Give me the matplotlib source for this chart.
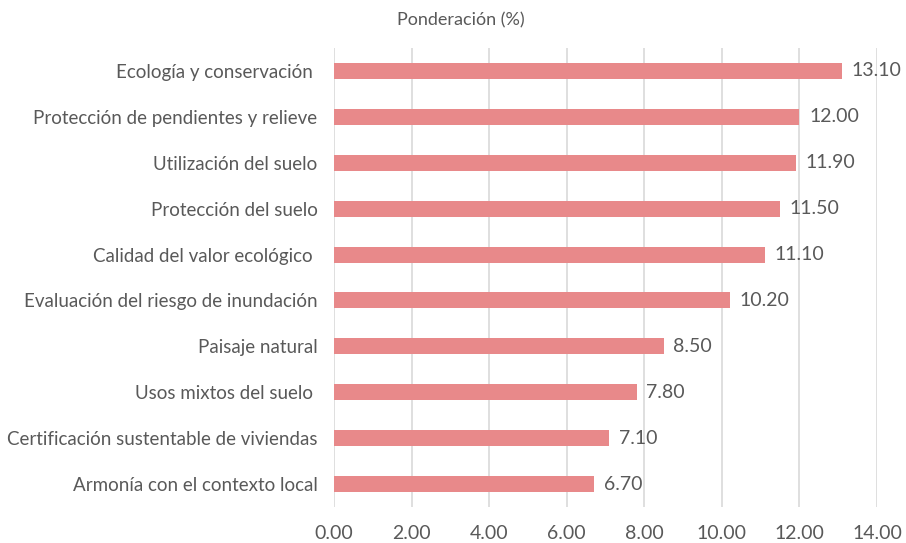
import matplotlib.pyplot as plt

categories = [
    "Ecología y conservación ",
    "Protección de pendientes y relieve",
    "Utilización del suelo",
    "Protección del suelo",
    "Calidad del valor ecológico ",
    "Evaluación del riesgo de inundación",
    "Paisaje natural",
    "Usos mixtos del suelo ",
    "Certificación sustentable de viviendas",
    "Armonía con el contexto local",
]
values = [13.10, 12.00, 11.90, 11.50, 11.10, 10.20, 8.50, 7.80, 7.10, 6.70]
xticks = [0, 2, 4, 6, 8, 10, 12, 14]
title = "Ponderación (%)"

plt.rcParams['font.family'] = ['Lato', 'DejaVu Sans']
text_color = "#595959"

fig = plt.figure(figsize=(9.06, 5.43), dpi=100)
ax = fig.add_axes([0.3687, 0.0663, 0.968 - 0.3687, 0.9116 - 0.0663])

pos = list(range(len(categories)))[::-1]
ax.barh(pos, values, height=0.35, color="#E8898A", zorder=3)
for p, v in zip(pos, values):
    ax.text(v + 0.25, p, f"{v:.2f}", va="center", ha="left", fontsize=14,
            color=text_color, zorder=4)

ax.set_xlim(0, 14)
ax.set_ylim(-0.5, len(categories) - 0.5)
ax.set_yticks(pos)
ax.set_yticklabels(categories, fontsize=13.5, color=text_color)
ax.set_xticks(xticks)
ax.set_xticklabels([f"{t:.2f}" for t in xticks], fontsize=14, color=text_color)
ax.tick_params(axis='both', length=0)
ax.tick_params(axis='y', pad=12)
ax.tick_params(axis='x', pad=13)
ax.grid(axis='x', color="#d9d9d9", linewidth=1.2, zorder=0)
ax.set_axisbelow(True)
for s in ax.spines.values():
    s.set_visible(False)

fig.text(461 / 906, 1 - 20 / 543, title, ha="center", va="center", fontsize=13,
         color=text_color)

fig.savefig("out.png", dpi=100)
